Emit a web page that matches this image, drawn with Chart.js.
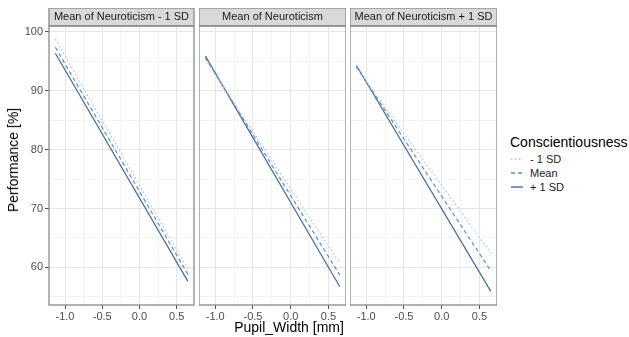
<!DOCTYPE html>
<html>
<head>
<meta charset="utf-8">
<script src="https://cdn.jsdelivr.net/npm/chart.js@4.4.1/dist/chart.umd.min.js"></script>
<style>
  html, body { margin: 0; padding: 0; background: #fff; }
  #wrap { position: relative; width: 629px; height: 337px; overflow: hidden; font-family: "Liberation Sans", Arial, sans-serif; }
  canvas { position: absolute; }
  .ytitle { position: absolute; left: 13px; top: 160px; transform: translate(-50%, -50%) rotate(-90deg); font-size: 14px; color: #000; white-space: nowrap; }
  .xtitle { position: absolute; left: 289px; top: 327px; transform: translate(-50%, -50%); font-size: 14px; color: #000; white-space: nowrap; }
  .legend { position: absolute; left: 510px; top: 132px; }
  .legend .lt { font-size: 14px; color: #000; height: 20px; line-height: 20px; }
  .legend .it { position: relative; height: 14px; line-height: 14px; font-size: 11px; color: #1a1a1a; }
  .legend svg { position: absolute; left: 0; top: 0; }
  .legend span { position: absolute; left: 20px; top: 0; white-space: nowrap; }
</style>
</head>
<body>
<div id="wrap">
  <canvas id="c1" width="196" height="317" style="left:0px; top:8px;"></canvas>
  <canvas id="c2" width="147" height="317" style="left:199px; top:8px;"></canvas>
  <canvas id="c3" width="147" height="317" style="left:350px; top:8px;"></canvas>
  <div class="ytitle">Performance [%]</div>
  <div class="xtitle">Pupil_Width [mm]</div>
  <div class="legend" id="legend"></div>
</div>
<script>
// ---- data ----
const panelTitles = ['Mean of Neuroticism - 1 SD', 'Mean of Neuroticism', 'Mean of Neuroticism + 1 SD'];
const pupilWidth = [-1.13, 0.65];
const seriesNames = ['- 1 SD', 'Mean', '+ 1 SD'];
// [start, end] performance per panel
const consLow  = [[98.8, 59.6], [95.3, 60.7], [93.9, 62.4]];
const consMean = [[97.4, 58.8], [95.6, 58.7], [94.1, 59.4]];
const consHigh = [[96.4, 57.6], [95.9, 56.7], [94.3, 55.9]];
const yTicksMajor = [60, 70, 80, 90, 100];
const xTicksMajor = [-1.0, -0.5, 0.0, 0.5];

// ---- styles ----
const seriesColors = ['#a3c6e8', '#5e8fc6', '#416aa0'];
const seriesDash = [[1.5, 2.5], [4, 3], []];
const FONT = '"Liberation Sans", Arial, sans-serif';

const panelDeco = {
  id: 'panelDeco',
  beforeDraw(chart) {
    const { ctx, chartArea: a } = chart;
    ctx.save();
    ctx.fillStyle = '#d9d9d9';
    ctx.fillRect(a.left, a.top - 18, a.right - a.left, 18);
    ctx.restore();
  },
  afterDraw(chart, args, opts) {
    const { ctx, chartArea: a } = chart;
    ctx.save();
    ctx.strokeStyle = '#8a8a8a';
    ctx.lineWidth = 1.3;
    ctx.strokeRect(a.left, a.top - 18, a.right - a.left, 18);
    ctx.strokeRect(a.left, a.top, a.right - a.left, a.bottom - a.top);
    ctx.fillStyle = '#1a1a1a';
    ctx.font = '11px ' + FONT;
    ctx.textAlign = 'center';
    ctx.textBaseline = 'middle';
    ctx.fillText(opts.text, (a.left + a.right) / 2, a.top - 9);
    ctx.restore();
  }
};

const isMajor = (v, step) => Math.abs(v / step - Math.round(v / step)) < 1e-6;

function makeChart(id, idx, showY) {
  const vals = [consLow[idx], consMean[idx], consHigh[idx]];
  const datasets = vals.map((v, i) => ({
    label: seriesNames[i],
    data: pupilWidth.map((x, k) => ({ x: x, y: v[k] })),
    borderColor: seriesColors[i],
    borderDash: seriesDash[i],
    borderWidth: 1.2,
    pointRadius: 0,
    fill: false,
    tension: 0
  }));
  return new Chart(document.getElementById(id), {
    type: 'line',
    data: { datasets },
    plugins: [panelDeco],
    options: {
      responsive: false,
      animation: false,
      devicePixelRatio: 1,
      layout: { padding: { top: 18, right: showY ? 2 : 0, left: 0, bottom: 0 } },
      plugins: {
        legend: { display: false },
        tooltip: { enabled: false },
        panelDeco: { text: panelTitles[idx] }
      },
      scales: {
        x: {
          type: 'linear',
          min: -1.215, max: 0.732,
          afterFit: s => { s.height = 20; },
          border: { display: false },
          grid: {
            color: c => isMajor(c.tick.value, 0.5) ? '#e6e6e6' : '#f3f3f3',
            lineWidth: 1,
            tickLength: 4,
            tickColor: c => isMajor(c.tick.value, 0.5) ? '#555' : 'rgba(0,0,0,0)'
          },
          ticks: {
            stepSize: 0.25,
            includeBounds: false,
            autoSkip: false,
            maxRotation: 0,
            padding: 1,
            color: '#4d4d4d',
            font: { size: 11, family: FONT },
            callback: v => {
              const m = xTicksMajor.find(t => Math.abs(t - v) < 1e-6);
              return m === undefined ? '' : m.toFixed(1);
            }
          }
        },
        y: {
          type: 'linear',
          min: 53.59, max: 101.02,
          afterFit: s => { s.width = showY ? 49 : 0; },
          border: { display: false },
          grid: {
            color: c => isMajor(c.tick.value, 10) ? '#e6e6e6' : '#f3f3f3',
            lineWidth: 1,
            drawTicks: showY,
            tickLength: 4,
            tickColor: c => isMajor(c.tick.value, 10) ? '#555' : 'rgba(0,0,0,0)'
          },
          ticks: {
            display: showY,
            stepSize: 5,
            includeBounds: false,
            autoSkip: false,
            padding: 2,
            color: '#4d4d4d',
            font: { size: 11, family: FONT },
            callback: v => yTicksMajor.includes(Math.round(v * 1000) / 1000) ? String(Math.round(v)) : ''
          }
        }
      }
    }
  });
}

makeChart('c1', 0, true);
makeChart('c2', 1, false);
makeChart('c3', 2, false);

// legend
const leg = document.getElementById('legend');
let html = '<div class="lt">Conscientiousness</div>';
seriesNames.forEach((n, i) => {
  const dash = seriesDash[i].length ? seriesDash[i].join(',') : 'none';
  html += '<div class="it"><svg width="14" height="14"><line x1="1" y1="7" x2="13" y2="7" stroke="' +
    seriesColors[i] + '" stroke-width="1.4" stroke-dasharray="' + dash + '"/></svg><span>' + n + '</span></div>';
});
leg.innerHTML = html;
</script>
</body>
</html>
